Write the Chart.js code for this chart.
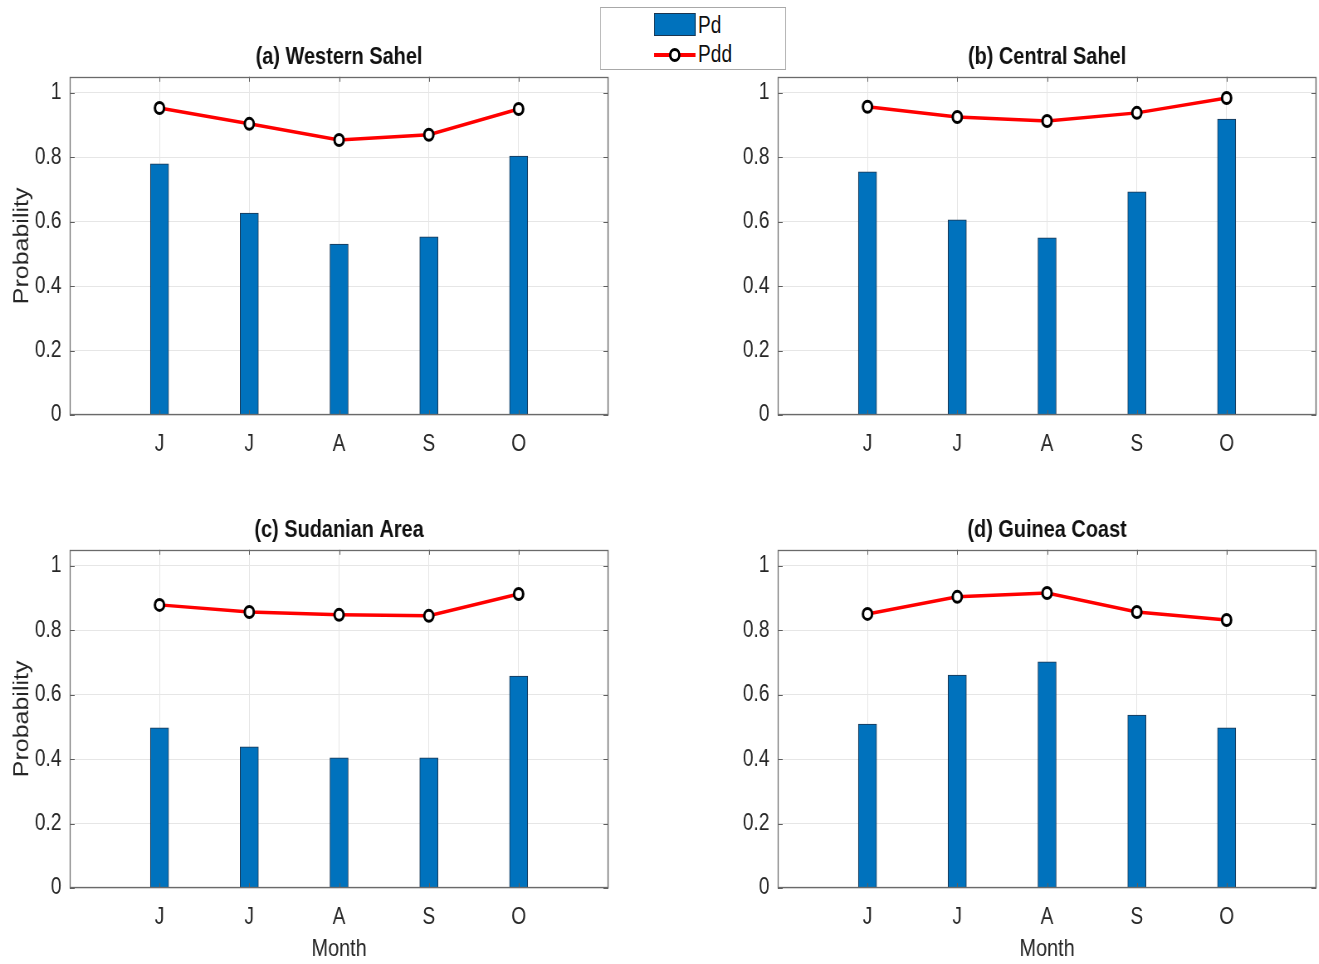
<!DOCTYPE html>
<html>
<head>
<meta charset="utf-8">
<script src="https://cdn.jsdelivr.net/npm/chart.js@4.4.1/dist/chart.umd.min.js"></script>
<style>
  html, body { margin: 0; background: #fff; }
  body { width: 1319px; height: 964px; position: relative; overflow: hidden; }
  /* the figure is laid out wide and condensed horizontally, giving the narrow look of the lettering */
  #figure { position: absolute; left: 0; top: 0; width: 1600px; height: 964px; transform: scaleX(0.83); transform-origin: 0 0; }
  #figure canvas { position: absolute; display: block; }
  #legend { position: absolute; left: 723px; top: 7px; width: 222px; height: 61px; border: 1px solid #a8a8a8; background: #fff;
            font-family: "Liberation Sans", Arial, sans-serif; font-size: 23px; color: #111; }
  .lg-item { position: absolute; left: 64px; height: 24px; width: 150px; }
  .lg-text { position: absolute; left: 53px; top: 0; line-height: 24px; }
</style>
</head>
<body>
<div id="figure">
  <canvas id="ca" width="745" height="427" style="left:0px;top:43px;width:745px;height:427px"></canvas>
  <canvas id="cb" width="745" height="427" style="left:853px;top:43px;width:745px;height:427px"></canvas>
  <canvas id="cc" width="745" height="447" style="left:0px;top:516px;width:745px;height:447px"></canvas>
  <canvas id="cd" width="745" height="447" style="left:853px;top:516px;width:745px;height:447px"></canvas>
  <div id="legend"></div>
</div>
<script>
// Months on the x axis (June to October)
const months = ['J', 'J', 'A', 'S', 'O'];
const seriesNames = ['Pd', 'Pdd'];
const yTickValues = [0, 0.2, 0.4, 0.6, 0.8, 1];

// (a) Western Sahel
const pdWestern  = [0.780, 0.627, 0.531, 0.553, 0.804];
const pddWestern = [0.953, 0.904, 0.854, 0.870, 0.950];
// (b) Central Sahel
const pdCentral  = [0.755, 0.606, 0.550, 0.693, 0.919];
const pddCentral = [0.957, 0.925, 0.913, 0.938, 0.984];
// (c) Sudanian Area
const pdSudanian  = [0.497, 0.438, 0.404, 0.404, 0.658];
const pddSudanian = [0.879, 0.857, 0.848, 0.845, 0.913];
// (d) Guinea Coast
const pdGuinea  = [0.509, 0.661, 0.702, 0.537, 0.497];
const pddGuinea = [0.851, 0.904, 0.916, 0.857, 0.832];

const FONT = '"Liberation Sans", Arial, sans-serif';
const BAR_BLUE = '#0072BD';
const TEXT = '#262626';

// One empty slot on each side of the months keeps the bars away from the box edges
const axisLabels = ['', ...months, ''];
const pad = arr => [null, ...arr, null];

// Box around the plot area and MATLAB-style inward tick marks
const framePlugin = {
  id: 'frame',
  afterDatasetsDraw(chart) {
    const { ctx, chartArea: a, scales: { x, y } } = chart;
    ctx.save();
    ctx.lineWidth = 1;
    ctx.strokeStyle = '#5e5e5e';
    ctx.beginPath();
    for (let i = 1; i <= months.length; i++) {
      const px = Math.round(x.getPixelForValue(i)) + 0.5;
      ctx.moveTo(px, a.bottom); ctx.lineTo(px, a.bottom - 5);
      ctx.moveTo(px, a.top); ctx.lineTo(px, a.top + 5);
    }
    for (const v of yTickValues) {
      const py = Math.round(y.getPixelForValue(v)) + 0.5;
      ctx.moveTo(a.left, py); ctx.lineTo(a.left + 6, py);
      ctx.moveTo(a.right, py); ctx.lineTo(a.right - 6, py);
    }
    ctx.stroke();
    ctx.lineWidth = 1.3;
    ctx.strokeStyle = '#6a6a6a';
    ctx.strokeRect(Math.round(a.left) + 0.5, Math.round(a.top) + 0.5,
                   Math.round(a.right - a.left) - 1, Math.round(a.bottom - a.top) - 1);
    ctx.restore();
  }
};

function makePanel(canvasId, title, pd, pdd, opts) {
  new Chart(document.getElementById(canvasId), {
    data: {
      labels: axisLabels,
      datasets: [
        {
          type: 'line', label: seriesNames[1], data: pad(pdd), order: 0,
          borderColor: '#ff0000', borderWidth: 3.5,
          pointRadius: 5.5, pointBorderWidth: 3,
          pointBackgroundColor: '#ffffff', pointBorderColor: '#000000'
        },
        {
          type: 'bar', label: seriesNames[0], data: pad(pd), order: 1,
          backgroundColor: BAR_BLUE, borderColor: '#1b3550', borderWidth: 1,
          barThickness: 22
        }
      ]
    },
    options: {
      responsive: false,
      animation: false,
      layout: { padding: { top: 0, right: 12, bottom: 0, left: 0 } },
      plugins: {
        legend: { display: false },
        tooltip: { enabled: false },
        title: {
          display: true, text: title, color: '#111', fullSize: false,
          font: { family: FONT, size: 24, weight: 'bold', lineHeight: 1.2 },
          padding: { top: 0, bottom: 5 }
        }
      },
      scales: {
        x: {
          type: 'category', offset: false,
          grid: { offset: false, color: '#e6e6e6', drawTicks: true, tickLength: 16, tickColor: 'rgba(0,0,0,0)' },
          border: { display: false },
          ticks: { color: TEXT, font: { family: FONT, size: 23 }, padding: 0, maxRotation: 0, autoSkip: false },
          title: {
            display: opts.xTitle, text: 'Month', color: TEXT,
            font: { family: FONT, size: 24, lineHeight: 1.1 }, padding: { top: 0, bottom: 0 }
          },
          afterFit(scale) { scale.height = opts.xHeight; }
        },
        y: {
          type: 'linear', min: 0, max: 1.05,
          grid: { color: '#e6e6e6', drawTicks: false },
          border: { display: false },
          afterBuildTicks(scale) { scale.ticks = yTickValues.map(v => ({ value: v })); },
          ticks: { color: TEXT, font: { family: FONT, size: 23 }, padding: 10,
                   callback: v => String(Math.round(v * 10) / 10) },
          title: {
            display: opts.yTitle, text: 'Probability', color: TEXT,
            font: { family: FONT, size: 25, lineHeight: 1.2 }, padding: { top: 12, bottom: 0 }
          },
          afterFit(scale) { scale.width = 84; }
        }
      }
    },
    plugins: [framePlugin]
  });
}

makePanel('ca', '(a) Western Sahel', pdWestern, pddWestern, { xTitle: false, yTitle: true, xHeight: 55 });
makePanel('cb', '(b) Central Sahel', pdCentral, pddCentral, { xTitle: false, yTitle: false, xHeight: 55 });
makePanel('cc', '(c) Sudanian Area', pdSudanian, pddSudanian, { xTitle: true, yTitle: true, xHeight: 75 });
makePanel('cd', '(d) Guinea Coast', pdGuinea, pddGuinea, { xTitle: true, yTitle: false, xHeight: 75 });

// Shared legend for both series
const legend = document.getElementById('legend');
legend.innerHTML =
  '<div class="lg-item" style="top:5px">' +
    '<div style="position:absolute;left:0;top:0;width:50px;height:23px;background:' + BAR_BLUE + ';border:1px solid #1b3550;box-sizing:border-box"></div>' +
    '<div class="lg-text">' + seriesNames[0] + '</div></div>' +
  '<div class="lg-item" style="top:34px">' +
    '<div style="position:absolute;left:0;top:11px;width:50px;height:3.5px;background:#ff0000"></div>' +
    '<div style="position:absolute;left:18px;top:6px;width:14px;height:14px;border:3px solid #000;border-radius:50%;background:#fff;box-sizing:border-box"></div>' +
    '<div class="lg-text">' + seriesNames[1] + '</div></div>';
</script>
</body>
</html>
